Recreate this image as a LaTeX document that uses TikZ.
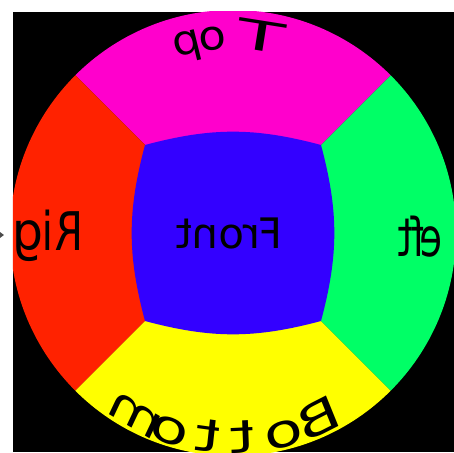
\documentclass[tikz,border=0pt]{standalone}
\usepackage{fontspec}
\newfontfamily\dfont{DejaVu Sans}
\definecolor{cmag}{HTML}{FF00CC}
\definecolor{cred}{HTML}{FF2200}
\definecolor{cgreen}{HTML}{00FF66}
\definecolor{cyellow}{HTML}{FFFF00}
\definecolor{cblue}{HTML}{3300FF}
\begin{document}
\begin{tikzpicture}[x=1pt,y=1pt,
  lbl/.style={font=\dfont\fontsize{42}{42}\selectfont, inner sep=0pt, xscale=-1},
  gl/.style={font=\dfont\fontsize{41}{41}\selectfont, inner sep=0pt, anchor=base},
  sidegl/.style={gl, yscale=1.3},
  botgl/.style={gl, yscale=1.12}
]
\useasboundingbox (-233,-219) rectangle (221,233);
\fill[black] (-220,-219) rectangle (221,221);
\begin{scope}
\clip (-220,-219) rectangle (221,221);
\clip (0,0) circle[radius=223];
\fill[cmag] (0,0) -- (45:400) -- (135:400) -- cycle;
\fill[cred] (0,0) -- (135:400) -- (225:400) -- cycle;
\fill[cyellow] (0,0) -- (225:400) -- (315:400) -- cycle;
\fill[cgreen] (0,0) -- (315:400) -- (45:400) -- cycle;
\coordinate (tl) at (-88,88);
\coordinate (tr) at (88,88);
\coordinate (br) at (88,-88);
\coordinate (bl) at (-88,-88);
\fill[cblue] (tl) to[bend left=15] (tr) to[bend left=15] (br) to[bend left=15] (bl) to[bend left=15] (tl) -- cycle;
\node[lbl] (front) at (-4,0) {Front};
% Top
\node[gl, rotate=-9, xscale=-1.9] (top1) at (82:184) {T};
\node[gl, rotate=6.1, xscale=-1.1] (top2) at (96.1:184) {o};
\node[gl, rotate=13.8, xscale=-1.1] (top3) at (103.8:184) {p};
% Bottom
\node[botgl, rotate=24.5, xscale=-1.55] (bot1) at (294.5:220) {B};
\node[botgl, rotate=14, xscale=-1.55] (bot2) at (284:220) {o};
\node[botgl, rotate=2.5, xscale=-1.55] (bot3) at (272.5:220) {t};
\node[botgl, rotate=-7, xscale=-1.55] (bot4) at (263:220) {t};
\node[botgl, rotate=-17.7, xscale=-1.55] (bot5) at (252.3:220) {o};
\node[botgl, rotate=-28, xscale=-1.4] (bot6) at (242:220) {m};
% Right (left side of picture)
\node[sidegl, xscale=-1] (rt1) at (-164,-17) {R};
\node[sidegl, xscale=-1] (rt2) at (-185,-17) {i};
\node[sidegl, xscale=-1.2] (rt3) at (-205.5,-17) {g};
\node[sidegl, xscale=-1.2] (rt4) at (-233,-17) {h};
\node[sidegl, xscale=-1.2] (rt5) at (-256,-17) {t};
% Left (right side of picture)
\node[sidegl, xscale=-0.9] (lt1) at (234,-23) {L};
\node[sidegl, xscale=-0.9] (lt2) at (198.5,-23) {e};
\node[sidegl, xscale=-0.9] (lt3) at (184.5,-23) {f};
\node[sidegl, xscale=-0.9] (lt4) at (172,-23) {t};
\end{scope}
\coordinate (tip) at (-229,-2);
\fill[black!70] (tip) -- (-233,1) -- (-233,-5) -- cycle;
\end{tikzpicture}
\end{document}
